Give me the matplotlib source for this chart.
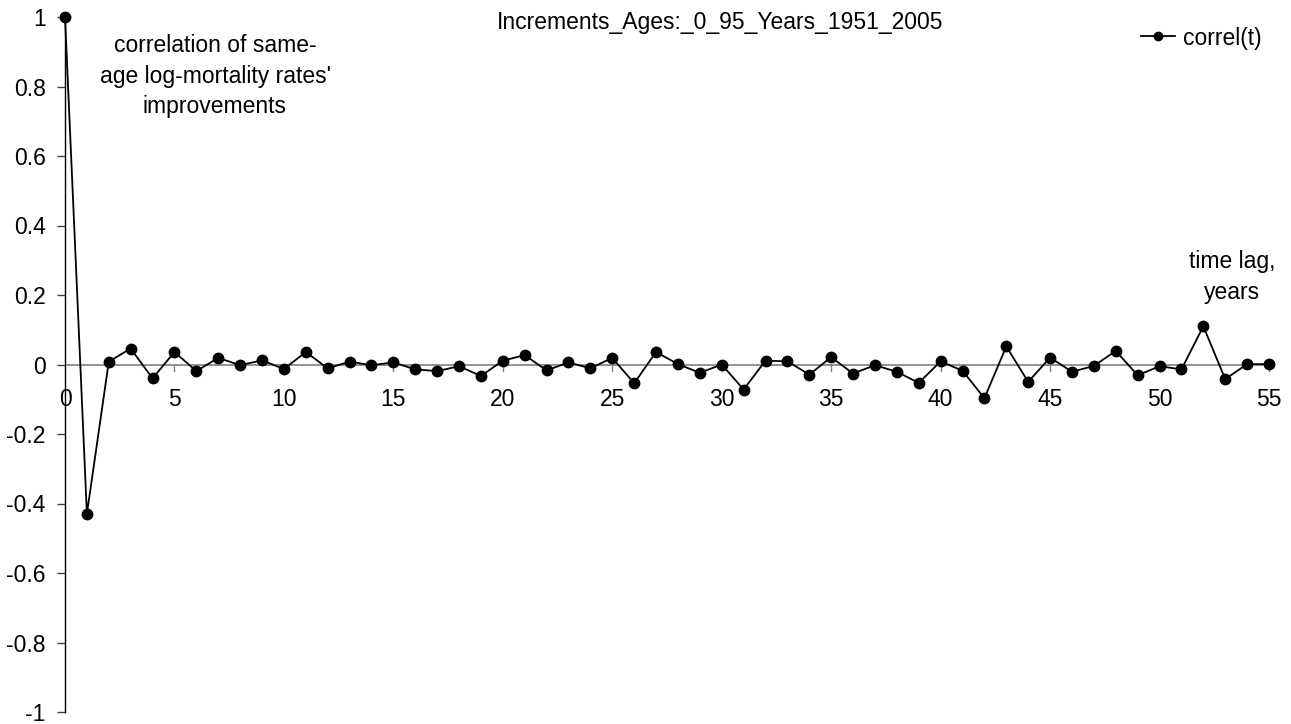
import matplotlib
matplotlib.use("Agg")
import matplotlib.pyplot as plt

plt.rcParams['font.family'] = ['Liberation Sans', 'DejaVu Sans']

# time lag, years
lags = list(range(0, 56))
# correlation of same-age log-mortality rates' improvements
correl = [1.0, -0.43, 0.008, 0.046, -0.040, 0.036, -0.019, 0.019, -0.002, 0.012,
          -0.013, 0.036, -0.011, 0.008, -0.002, 0.006, -0.014, -0.019, -0.005, -0.033,
          0.011, 0.027, -0.017, 0.006, -0.011, 0.019, -0.054, 0.036, 0.001, -0.024,
          0.000, -0.072, 0.011, 0.009, -0.029, 0.021, -0.026, -0.002, -0.021, -0.053,
          0.009, -0.018, -0.097, 0.052, -0.050, 0.020, -0.021, -0.004, 0.039, -0.031,
          -0.005, -0.014, 0.110, -0.042, 0.001, 0.001]
x_ticks = [0, 5, 10, 15, 20, 25, 30, 35, 40, 45, 50, 55]
y_ticks = [-1, -0.8, -0.6, -0.4, -0.2, 0, 0.2, 0.4, 0.6, 0.8, 1]
y_labels = ['-1', '-0.8', '-0.6', '-0.4', '-0.2', '0', '0.2', '0.4', '0.6', '0.8', '1']

FS = 16.5

fig = plt.figure(figsize=(12.91, 7.24), dpi=100)
ax = fig.add_axes([65 / 1291, 12 / 724, 1204 / 1291, 695 / 724])
ax.set_xlim(0, 55)
ax.set_ylim(-1, 1)

# x axis drawn through zero, Excel style
ax.axhline(0, color='#808080', lw=1.2, zorder=1)
for t in x_ticks[1:]:
    ax.plot([t, t], [0, -0.02], color='#808080', lw=1.0, zorder=1, clip_on=False)
for t in x_ticks:
    ax.text(t, -0.1, str(t), ha='center', va='center', fontsize=FS)

ax.plot(lags, correl, color='black', lw=1.3, marker='o', markersize=7.5,
        label='correl(t)', zorder=3, clip_on=False)

for s in ['top', 'right', 'bottom']:
    ax.spines[s].set_visible(False)
ax.spines['left'].set_linewidth(1.0)
ax.set_xticks([])
ax.set_yticks(y_ticks)
ax.set_yticklabels(y_labels)
ax.tick_params(axis='y', direction='out', length=6, width=1.0, color='#404040',
               labelsize=FS, pad=8)

fig.text(720 / 1291, 1 - 22 / 724, 'Increments_Ages:_0_95_Years_1951_2005',
         ha='center', va='center', fontsize=FS)
fig.text(215 / 1291, 1 - 76 / 724, "correlation of same-\nage log-mortality rates'\nimprovements",
         ha='center', va='center', fontsize=FS, linespacing=1.4)
fig.text(1232 / 1291, 1 - 277 / 724, 'time lag,\nyears',
         ha='center', va='center', fontsize=FS, linespacing=1.4)

ax.legend(loc='center right', bbox_to_anchor=(1262 / 1291, 1 - 38 / 724),
          bbox_transform=fig.transFigure, frameon=False, fontsize=FS,
          handlelength=1.5, handletextpad=0.35, markerscale=0.8,
          borderpad=0, borderaxespad=0)

fig.savefig('out.png', dpi=100)
